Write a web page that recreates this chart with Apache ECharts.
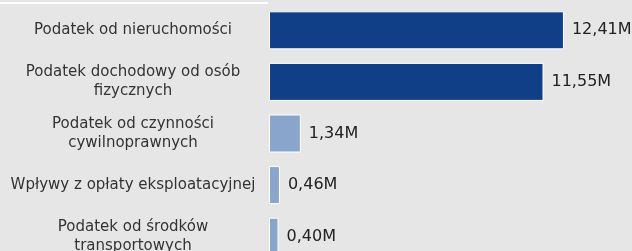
<!DOCTYPE html>
<html>
<head>
<meta charset="utf-8">
<script src="https://cdn.jsdelivr.net/npm/echarts@6/dist/echarts.min.js"></script>
<style>
  html, body { margin: 0; padding: 0; background: #e6e6e6; overflow: hidden; }
  #chart { width: 632px; height: 251px; }
</style>
</head>
<body>
<div id="chart"></div>
<script>
// data (mln zł)
const categories = [
    'Podatek od nieruchomości',
    'Podatek dochodowy od osób\nfizycznych',
    'Podatek od czynności\ncywilnoprawnych',
    'Wpływy z opłaty eksploatacyjnej',
    'Podatek od środków\ntransportowych'
];
const values = [12.41, 11.55, 1.34, 0.46, 0.40];
const barColors = ['#103f87', '#103f87', '#8aa5cb', '#8aa5cb', '#8aa5cb'];

const chart = echarts.init(document.getElementById('chart'));

chart.setOption({
    backgroundColor: '#e6e6e6',
    animation: false,
    graphic: [{
        type: 'rect',
        shape: {x: 0, y: 2, width: 268, height: 2},
        style: {fill: '#ffffff'}
    }],
    // the plot runs past the bottom edge (last row is cut off)
    grid: {left: 269, right: 6.5, top: 4.5, height: 258, outerBoundsMode: 'none'},
    xAxis: {
        type: 'value',
        min: 0,
        max: 15,
        show: false
    },
    yAxis: {
        type: 'category',
        data: categories,
        inverse: true,
        axisLine: {show: false},
        axisTick: {show: false},
        axisLabel: {
            align: 'center',
            margin: 136,
            color: '#333',
            fontFamily: 'DejaVu Sans',
            fontSize: 15,
            lineHeight: 19
        }
    },
    series: [{
        type: 'bar',
        data: values.map((v, i) => ({value: v, itemStyle: {color: barColors[i]}})),
        barWidth: 38,
        itemStyle: {borderColor: '#ffffff', borderWidth: 1},
        label: {
            show: true,
            position: 'right',
            distance: 8,
            color: '#222',
            fontFamily: 'DejaVu Sans',
            fontSize: 16,
            formatter: p => p.value.toFixed(2).replace('.', ',') + 'M'
        }
    }]
});
</script>
</body>
</html>
